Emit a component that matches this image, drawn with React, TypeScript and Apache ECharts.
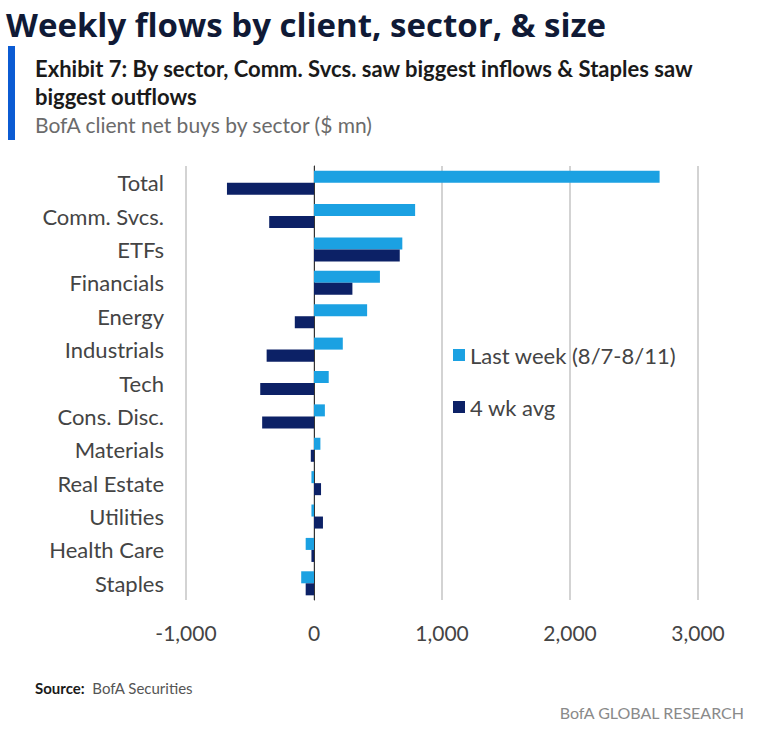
import React, { useEffect, useRef } from "react";
import * as echarts from "echarts";

const categories = [
  "Total",
  "Comm. Svcs.",
  "ETFs",
  "Financials",
  "Energy",
  "Industrials",
  "Tech",
  "Cons. Disc.",
  "Materials",
  "Real Estate",
  "Utilities",
  "Health Care",
  "Staples",
];
const lastWeek = [2700, 790, 690, 515, 415, 225, 115, 85, 50, -20, -20, -65, -100];
const fourWkAvg = [-680, -350, 670, 300, -150, -370, -420, -405, -25, 55, 70, -20, -65];
const xTicks = { min: -1000, max: 3000, interval: 1000 };
const seriesNames = ["Last week (8/7-8/11)", "4 wk avg"];

const LIGHT = "#1ba1e2";
const DARK = "#0c2166";
const FONT = "Lato, 'Open Sans', sans-serif";

export default function App() {
  const ref = useRef<HTMLDivElement>(null);
  useEffect(() => {
    if (!ref.current) return;
    const chart = echarts.init(ref.current, null, { renderer: "svg" });
    chart.setOption({
      animation: false,
      backgroundColor: "#ffffff",
      textStyle: { fontFamily: FONT },
      graphic: [
        {
          type: "text",
          left: 6,
          top: 8,
          style: {
            text: "Weekly flows by client, sector, & size",
            font: "bold 33px 'Open Sans', sans-serif",
            fill: "#101a36",
          },
        },
        {
          type: "rect",
          shape: { x: 8, y: 46, width: 7, height: 94 },
          style: { fill: "#0b5bd3" },
        },
        {
          type: "text",
          left: 35,
          top: 54,
          style: {
            text: "Exhibit 7: By sector, Comm. Svcs. saw biggest inflows & Staples saw\nbiggest outflows",
            font: "bold 22px Lato, sans-serif",
            fill: "#1a1a1a",
            lineHeight: 28,
          },
        },
        {
          type: "text",
          left: 35,
          top: 114,
          style: {
            text: "BofA client net buys by sector ($ mn)",
            font: "21px Lato, sans-serif",
            fill: "#6b6b6b",
          },
        },
        {
          type: "text",
          left: 35,
          top: 680,
          style: {
            rich: {
              b: { font: "bold 15px Lato, sans-serif", fill: "#1a1a1a" },
              n: { font: "15px Lato, sans-serif", fill: "#555555" },
            },
            text: "{b|Source:}{n|  BofA Securities}",
          },
        },
        {
          type: "text",
          right: 13,
          top: 704,
          style: {
            text: "BofA GLOBAL RESEARCH",
            font: "16px Lato, sans-serif",
            fill: "#8a8a8a",
          },
        },
      ],
      legend: {
        orient: "vertical",
        left: 448,
        top: 339,
        itemWidth: 12,
        itemHeight: 12,
        itemGap: 30,
        icon: "rect",
        textStyle: { fontSize: 22, color: "#444444", fontFamily: FONT },
        data: seriesNames,
      },
      grid: { left: 186, right: 60, top: 166, bottom: 140, containLabel: false },
      xAxis: {
        type: "value",
        min: xTicks.min,
        max: xTicks.max,
        interval: xTicks.interval,
        axisLine: { show: false },
        axisTick: { show: false },
        splitLine: { show: true, lineStyle: { color: "#c4c4c4", width: 1.5 } },
        axisLabel: {
          fontSize: 21,
          color: "#444444",
          margin: 22,
          formatter: (v: number) => v.toLocaleString("en-US"),
        },
      },
      yAxis: {
        type: "category",
        inverse: true,
        data: categories,
        axisLine: { show: true, onZero: true, lineStyle: { color: "#333333", width: 1 } },
        axisTick: { show: false },
        axisLabel: {
          fontSize: 22,
          color: "#444444",
          margin: 22,
          fontFamily: FONT,
        },
      },
      series: [
        {
          name: seriesNames[0],
          type: "bar",
          data: lastWeek,
          itemStyle: { color: LIGHT },
          barGap: "0%",
          barCategoryGap: "28%",
        },
        {
          name: seriesNames[1],
          type: "bar",
          data: fourWkAvg,
          itemStyle: { color: DARK },
          barGap: "0%",
          barCategoryGap: "28%",
        },
      ],
    });
    return () => chart.dispose();
  }, []);
  return (
    <div
      ref={ref}
      style={{ position: "fixed", left: 0, top: 0, width: 758, height: 740 }}
    />
  );
}
